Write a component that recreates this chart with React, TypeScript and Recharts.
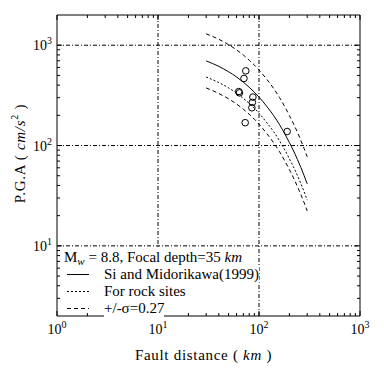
import { ComposedChart, Line, Scatter, XAxis, YAxis, ReferenceLine, Legend, Label } from "recharts";

const FONT = '"Liberation Serif", "Times New Roman", serif';

// curves (Fault distance km -> PGA cm/s^2)
const distances = [30, 40, 50, 60, 70, 80, 90, 100, 120, 140, 160, 180, 200, 220, 240, 260, 280, 300];
const siMidorikawa = [698, 615, 544, 482, 428, 381, 340, 304, 244, 198, 161, 131, 107, 88.3, 72.8, 60.3, 50.0, 41.5];
const rockSites = [482, 424, 375, 333, 295, 263, 235, 210, 168, 137, 111, 90.4, 73.8, 60.9, 50.2, 41.6, 34.5, 28.6];
const upperSigma = [1300, 1145, 1013, 897, 797, 709, 633, 566, 454, 369, 300, 244, 199, 164, 136, 112, 93.1, 77.3];
const lowerSigma = [375, 330, 292, 259, 230, 205, 183, 163, 131, 106, 86.5, 70.3, 57.5, 47.4, 39.1, 32.4, 26.9, 22.3];

// observed records
const obsDistance = [74, 71, 63, 64, 87, 86, 85, 73, 190];
const obsPga = [555, 466, 345, 335, 304, 269, 238, 169, 138];

const xTicks = [1, 2, 3, 4, 5, 6, 7, 8, 9, 10, 20, 30, 40, 50, 60, 70, 80, 90, 100, 200, 300, 400, 500, 600, 700, 800, 900, 1000];
const yTicks = [3, 4, 5, 6, 7, 8, 9, 10, 20, 30, 40, 50, 60, 70, 80, 90, 100, 200, 300, 400, 500, 600, 700, 800, 900, 1000];
const xGrid = [10, 100];
const yGrid = [10, 100, 1000];

const legendNames = ["Si and Midorikawa(1999)", "For rock sites", "+/-\u03c3=0.27"];
const legendDash = ["", "2 2", "4 3"];

const toRows = (ys: number[]) => distances.map((x, i) => ({ x, y: ys[i] }));
const points = obsDistance.map((x, i) => ({ x, y: obsPga[i] }));

const expOf = (v: number) => Math.round(Math.log10(v));
const isMajor = (v: number) => Math.abs(Math.log10(v) - expOf(v)) < 1e-6;

const BottomTick = ({ x, y, payload }: any) => {
  const major = isMajor(payload.value);
  return (
    <g>
      <line x1={x} x2={x} y1={y} y2={y - (major ? 5 : 3)} stroke="#000" />
      {major && (
        <text x={x} y={y + 18} textAnchor="middle" fontSize={14} fontFamily={FONT} fill="#000">
          10<tspan dy={-6} fontSize={10}>{expOf(payload.value)}</tspan>
        </text>
      )}
    </g>
  );
};

const TopTick = ({ x, y, payload }: any) => (
  <line x1={x} x2={x} y1={y} y2={y + (isMajor(payload.value) ? 5 : 3)} stroke="#000" />
);

const LeftTick = ({ x, y, payload }: any) => {
  const major = isMajor(payload.value);
  return (
    <g>
      <line x1={x} x2={x + (major ? 5 : 3)} y1={y} y2={y} stroke="#000" />
      {major && (
        <text x={x - 5} y={y + 5} textAnchor="end" fontSize={14} fontFamily={FONT} fill="#000">
          10<tspan dy={-6} fontSize={10}>{expOf(payload.value)}</tspan>
        </text>
      )}
    </g>
  );
};

const RightTick = ({ x, y, payload }: any) => (
  <line x1={x} x2={x - (isMajor(payload.value) ? 5 : 3)} y1={y} y2={y} stroke="#000" />
);

const XTitle = ({ viewBox }: any) => (
  <text x={viewBox.x + viewBox.width / 2 - 5} y={viewBox.y + 44} textAnchor="middle" fontSize={15} letterSpacing={0.7} fontFamily={FONT} fill="#000">
    Fault distance ( <tspan fontStyle="italic">km</tspan> )
  </text>
);

const YTitle = ({ viewBox }: any) => {
  const cx = viewBox.x + viewBox.width - 37;
  const cy = viewBox.y + viewBox.height / 2 - 12;
  return (
    <text x={cx} y={cy} transform={`rotate(-90 ${cx} ${cy})`} textAnchor="middle" dominantBaseline="central" fontSize={15} letterSpacing={0.7} fontFamily={FONT} fill="#000">
      P.G.A ( <tspan fontStyle="italic">cm/s</tspan><tspan dy={-6} fontSize={10}>2</tspan><tspan dy={6}> )</tspan>
    </text>
  );
};

const Circle = ({ cx, cy }: any) => <circle cx={cx} cy={cy} r={3.3} fill="none" stroke="#000" strokeWidth={1} />;

const LegendBox = () => (
  <div style={{ position: "relative", width: 200, height: 70, fontFamily: FONT, fontSize: 15, color: "#000" }}>
    <div style={{ position: "absolute", left: 6, top: 0, lineHeight: "17px", background: "#fff", whiteSpace: "nowrap" }}>
      M<span style={{ fontSize: 11, fontStyle: "italic", verticalAlign: -3 }}>w</span> = 8.8, Focal depth=35 <i>km</i>
    </div>
    {legendNames.map((name, i) => (
      <div key={name}>
        <svg width={24} height={17} style={{ position: "absolute", left: 8, top: 17 * (i + 1) }}>
          <line x1={1} x2={23} y1={8.5} y2={8.5} stroke="#000" strokeDasharray={legendDash[i] || undefined} />
        </svg>
        <div
          style={{
            position: "absolute",
            left: 46,
            top: 17 * (i + 1),
            lineHeight: "17px",
            background: "#fff",
            whiteSpace: "nowrap",
            paddingBottom: i === legendNames.length - 1 ? 2 : 0,
          }}
        >
          {name}
        </div>
      </div>
    ))}
  </div>
);

export default function App() {
  return (
    <div style={{ position: "absolute", left: 0, top: 0, background: "#fff" }}>
      <ComposedChart width={384} height={372} margin={{ top: 14, right: 23, bottom: 55, left: 56 }}>
        <XAxis
          xAxisId="b"
          type="number"
          dataKey="x"
          scale="log"
          domain={[1, 1000]}
          allowDataOverflow
          ticks={xTicks}
          interval={0}
          height={1}
          tickSize={0}
          tickMargin={0}
          tickLine={false}
          axisLine={{ stroke: "#000" }}
          tick={<BottomTick />}
        >
          <Label content={<XTitle />} />
        </XAxis>
        <XAxis
          xAxisId="t"
          orientation="top"
          type="number"
          dataKey="x"
          scale="log"
          domain={[1, 1000]}
          allowDataOverflow
          ticks={xTicks}
          interval={0}
          height={1}
          tickSize={0}
          tickMargin={0}
          tickLine={false}
          axisLine={{ stroke: "#000" }}
          tick={<TopTick />}
        />
        <YAxis
          yAxisId="l"
          type="number"
          dataKey="y"
          scale="log"
          domain={[2, 2000]}
          allowDataOverflow
          ticks={yTicks}
          interval={0}
          width={1}
          tickSize={0}
          tickMargin={0}
          tickLine={false}
          axisLine={{ stroke: "#000" }}
          tick={<LeftTick />}
        >
          <Label content={<YTitle />} />
        </YAxis>
        <YAxis
          yAxisId="r"
          orientation="right"
          type="number"
          dataKey="y"
          scale="log"
          domain={[2, 2000]}
          allowDataOverflow
          ticks={yTicks}
          interval={0}
          width={1}
          tickSize={0}
          tickMargin={0}
          tickLine={false}
          axisLine={{ stroke: "#000" }}
          tick={<RightTick />}
        />

        {xGrid.map((v) => (
          <ReferenceLine key={`gx${v}`} xAxisId="b" yAxisId="l" x={v} stroke="#000" strokeDasharray="4 2 1 2" />
        ))}
        {yGrid.map((v) => (
          <ReferenceLine key={`gy${v}`} xAxisId="b" yAxisId="l" y={v} stroke="#000" strokeDasharray="4 2 1 2" />
        ))}

        <Line xAxisId="b" yAxisId="l" data={toRows(upperSigma)} dataKey="y" type="monotone" stroke="#000" strokeWidth={1} strokeDasharray="4 3" dot={false} isAnimationActive={false} />
        <Line xAxisId="b" yAxisId="l" data={toRows(siMidorikawa)} dataKey="y" type="monotone" stroke="#000" strokeWidth={1} dot={false} isAnimationActive={false} />
        <Line xAxisId="b" yAxisId="l" data={toRows(rockSites)} dataKey="y" type="monotone" stroke="#000" strokeWidth={1} strokeDasharray="2 2" dot={false} isAnimationActive={false} />
        <Line xAxisId="b" yAxisId="l" data={toRows(lowerSigma)} dataKey="y" type="monotone" stroke="#000" strokeWidth={1} strokeDasharray="4 3" dot={false} isAnimationActive={false} />
        <Scatter xAxisId="b" yAxisId="l" data={points} dataKey="y" shape={<Circle />} isAnimationActive={false} />

        <Legend
          layout="vertical"
          align="center"
          verticalAlign="middle"
          content={<LegendBox />}
          wrapperStyle={{ left: 58, top: 249, width: 200, height: 70 }}
        />
      </ComposedChart>
    </div>
  );
}
